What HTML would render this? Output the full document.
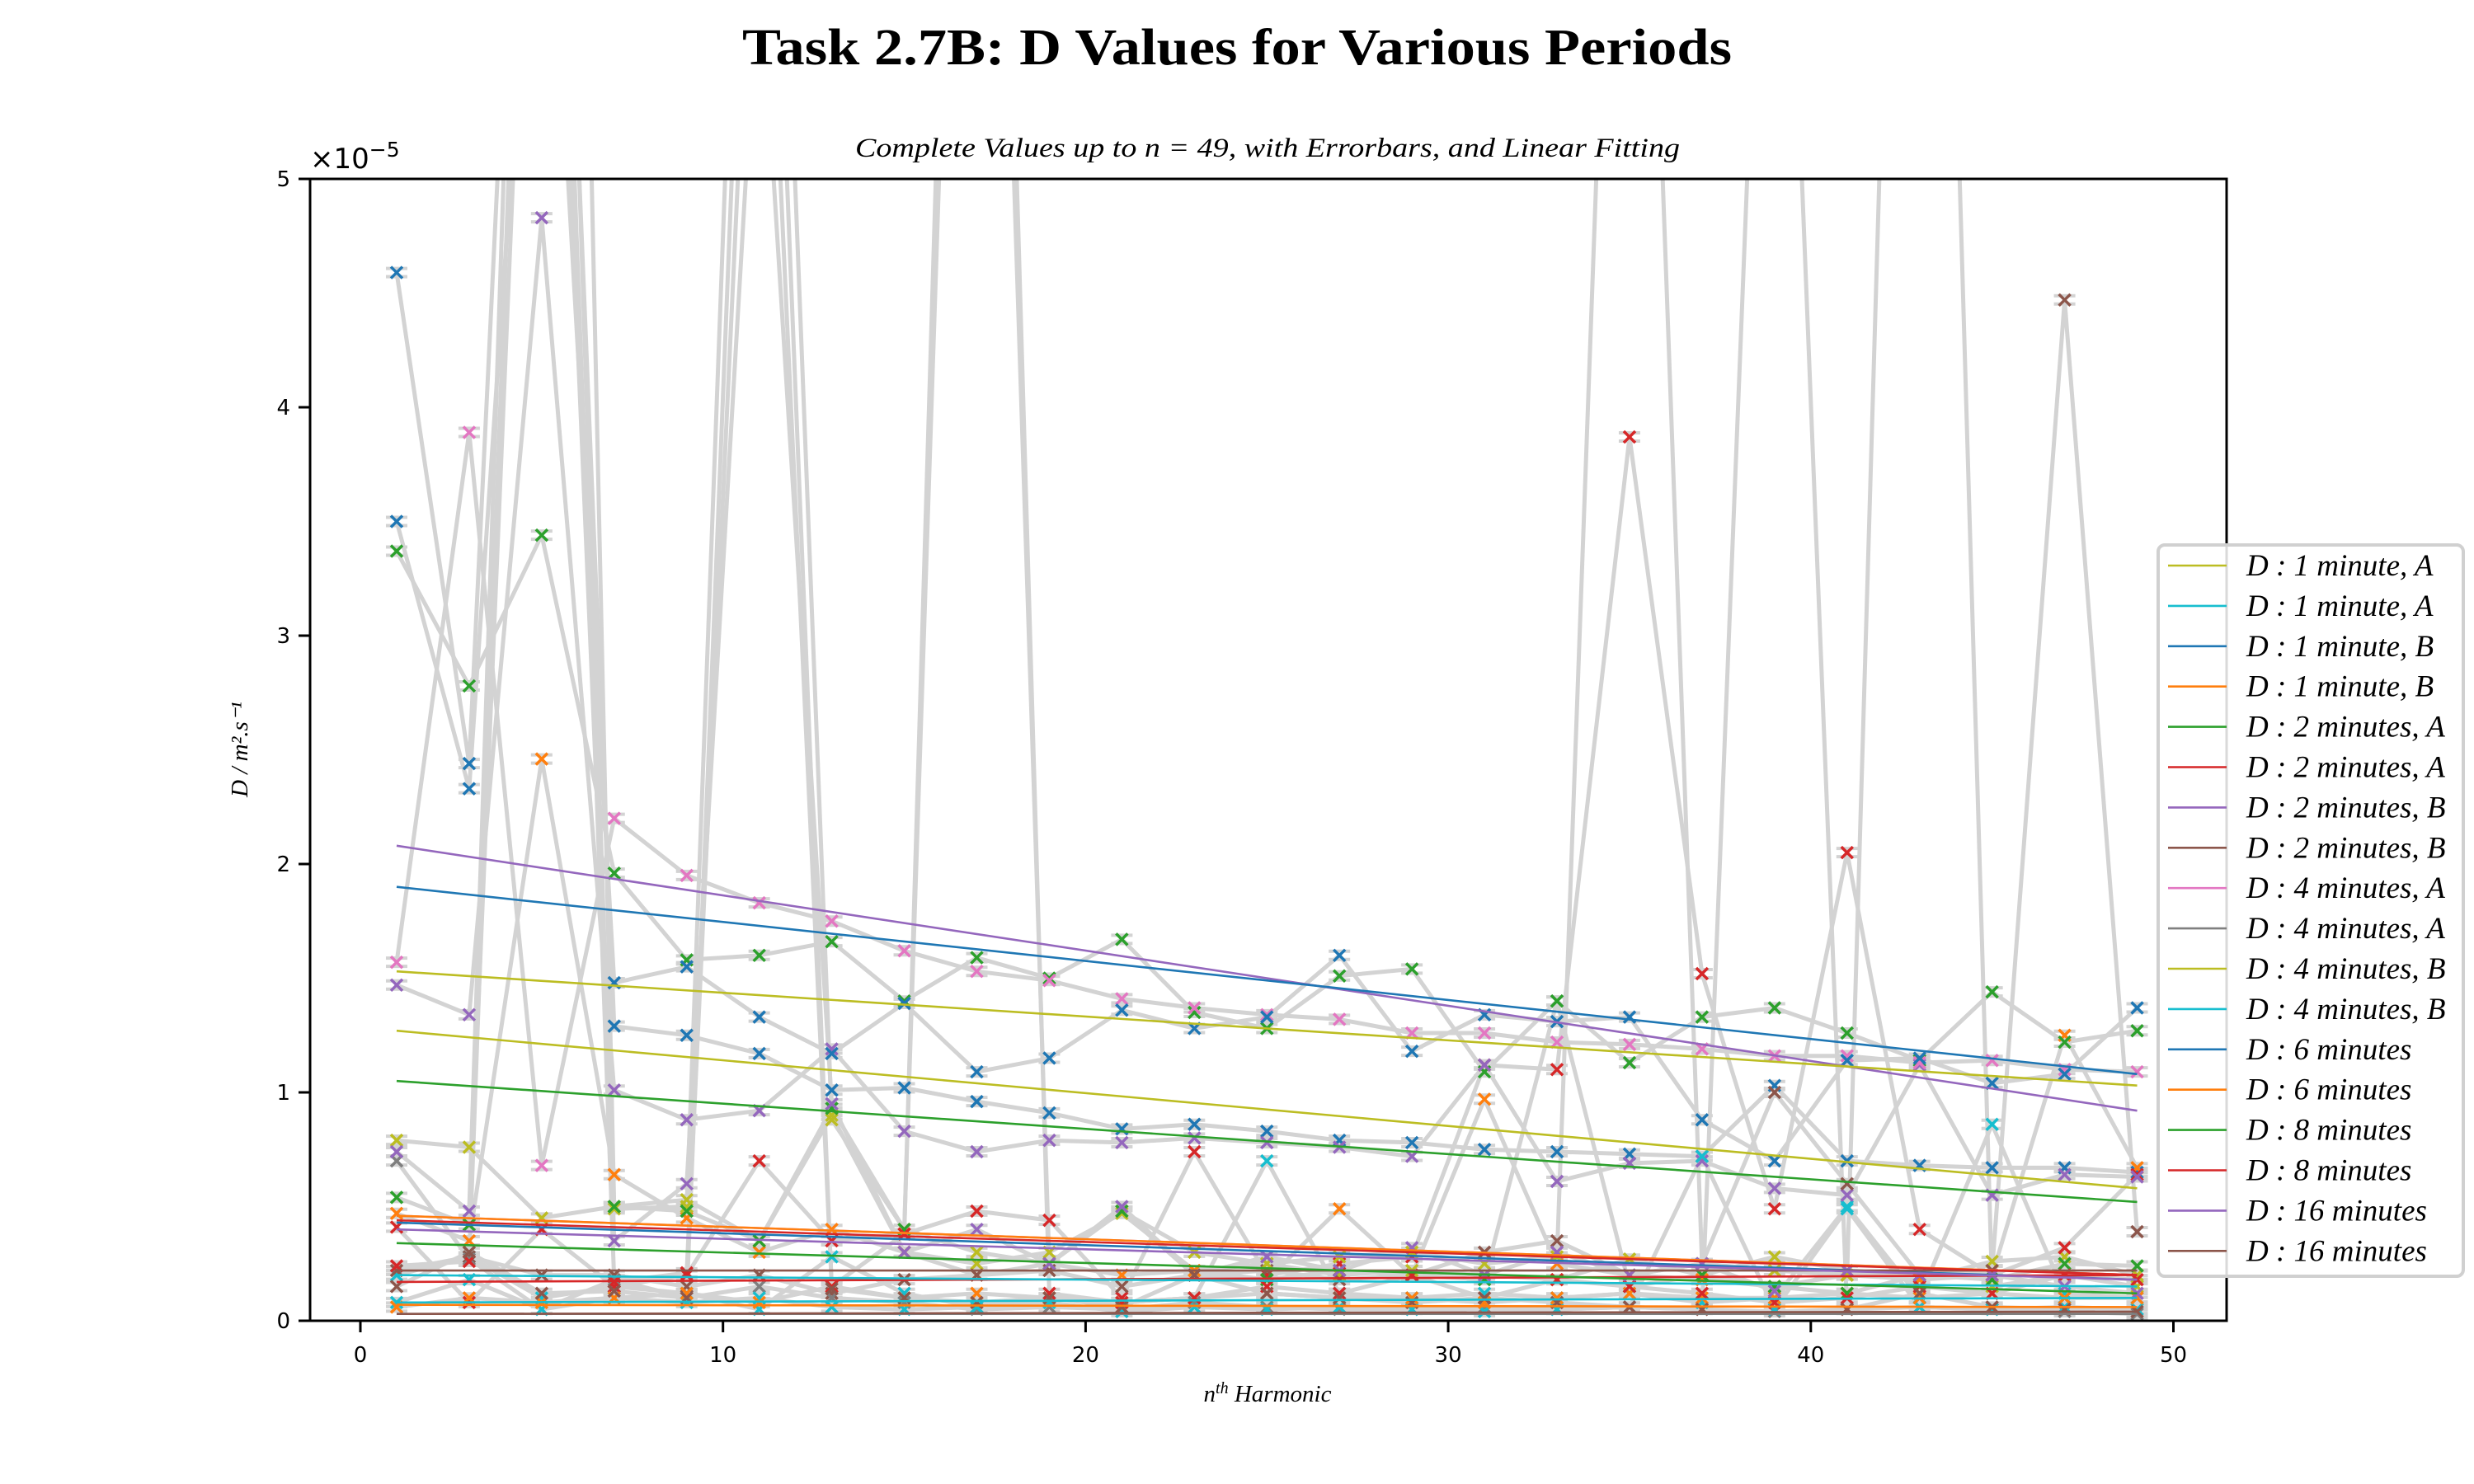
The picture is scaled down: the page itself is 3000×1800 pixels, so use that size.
<!DOCTYPE html>
<html><head><meta charset="utf-8"><style>
html,body{margin:0;padding:0;background:#fff;}
svg{display:block;}
</style></head><body>
<svg id="chart" xmlns="http://www.w3.org/2000/svg" width="3000" height="1800" viewBox="0 0 3000 1800">
<defs><clipPath id="plotclip"><rect x="376" y="217" width="2324" height="1385"/></clipPath></defs>
<rect width="3000" height="1800" fill="#fff"/>
<text x="1500" y="78" text-anchor="middle" font-family="Liberation Serif, serif" font-weight="bold" font-size="62" textLength="1200" lengthAdjust="spacingAndGlyphs">Task 2.7B: D Values for Various Periods</text>
<text x="1537" y="190" text-anchor="middle" font-family="Liberation Serif, serif" font-style="italic" font-size="33" textLength="1000" lengthAdjust="spacingAndGlyphs">Complete Values up to n = 49, with Errorbars, and Linear Fitting</text>
<text x="376" y="204" font-family="DejaVu Sans, sans-serif" font-size="34">×10<tspan dy="-14" font-size="25">−5</tspan></text>
<text transform="translate(300,909) rotate(-90)" text-anchor="middle" font-family="Liberation Serif, serif" font-style="italic" font-size="29">D / m².s⁻¹</text>
<text x="1537" y="1700" text-anchor="middle" font-family="Liberation Serif, serif" font-style="italic" font-size="29">n<tspan dy="-10" font-size="20">th</tspan><tspan dy="10"> Harmonic</tspan></text>
<g id="grey" clip-path="url(#plotclip)"></g>
<g id="marks" clip-path="url(#plotclip)"></g>
<g id="fits" clip-path="url(#plotclip)"></g>
<g id="axes"></g>
<g id="legend"></g>
</svg>
<script>
const harmonics = [1,3,5,7,9,11,13,15,17,19,21,23,25,27,29,31,33,35,37,39,41,43,45,47,49];
const seriesNames = ["D : 1 minute, A","D : 1 minute, A","D : 1 minute, B","D : 1 minute, B","D : 2 minutes, A","D : 2 minutes, A","D : 2 minutes, B","D : 2 minutes, B","D : 4 minutes, A","D : 4 minutes, A","D : 4 minutes, B","D : 4 minutes, B","D : 6 minutes","D : 6 minutes","D : 8 minutes","D : 8 minutes","D : 16 minutes","D : 16 minutes"];
const seriesColors = ["#bcbd22","#17becf","#1f77b4","#ff7f0e","#2ca02c","#d62728","#9467bd","#8c564b","#e377c2","#7f7f7f","#bcbd22","#17becf","#1f77b4","#ff7f0e","#2ca02c","#d62728","#9467bd","#8c564b"];
const s0 = [0.79,0.76,0.45,0.50,0.53,0.35,0.90,0.30,0.25,0.30,0.47,0.22,0.25,0.20,0.22,0.20,0.18,0.27,0.20,0.28,0.22,0.18,0.26,0.28,0.20];
const s1 = [0.20,0.28,0.10,0.15,0.12,0.05,0.28,0.12,0.06,0.10,0.08,0.10,0.70,0.12,0.10,0.12,0.10,0.12,0.08,0.10,0.50,0.10,0.86,0.12,0.10];
const s2 = [4.59,2.44,9,1.29,1.25,1.17,1.01,1.02,0.96,0.91,0.84,0.86,0.83,0.79,0.78,0.75,0.74,0.73,0.72,1.03,0.70,0.68,0.67,0.67,0.65];
const s3 = [0.47,0.35,2.46,0.64,0.45,0.30,0.40,0.30,0.20,0.25,0.20,0.22,0.18,0.49,0.20,0.97,0.25,0.20,0.18,0.15,0.20,0.18,0.20,1.25,0.67];
const s4 = [3.37,2.78,3.44,1.96,1.58,1.60,1.66,1.40,1.59,1.50,1.67,1.35,1.28,1.51,1.54,1.09,1.40,1.13,1.33,1.37,1.26,1.14,1.44,1.22,1.27];
const s5 = [0.41,0.08,0.40,0.15,0.20,0.70,0.35,0.38,0.48,0.44,0.10,0.74,0.20,0.25,0.28,1.12,1.10,3.87,1.52,0.49,2.05,0.40,0.20,0.32,0.64];
const s6 = [1.47,1.34,4.83,1.01,0.88,0.92,1.19,0.83,0.74,0.79,0.78,0.80,0.78,0.76,0.72,1.12,0.61,0.69,0.70,0.58,0.55,1.12,0.55,0.64,0.63];
const s7 = [0.22,0.28,0.20,0.20,0.15,0.20,0.12,0.18,0.20,0.22,0.15,0.20,0.22,0.18,0.20,0.30,0.35,0.20,0.25,1.00,0.60,0.20,0.22,4.47,0.39];
const s8 = [1.57,3.89,0.68,2.20,1.95,1.83,1.75,1.62,1.53,1.49,1.41,1.37,1.34,1.32,1.26,1.26,1.22,1.21,1.19,1.16,1.16,1.13,1.14,1.10,1.09];
const s9 = [0.70,0.27,0.05,0.18,0.10,0.15,0.10,0.08,0.05,0.06,0.05,0.08,0.06,0.05,0.05,0.06,0.05,0.06,0.05,0.04,0.05,0.06,0.05,0.04,0.03];
const s10 = [12,8,15,0.49,0.50,9,0.88,0.40,0.30,0.25,0.48,0.30,0.25,0.28,0.30,0.25,0.28,9,0.25,0.22,0.20,11,0.15,0.20,0.15];
const s11 = [0.08,0.18,0.05,0.10,0.08,0.10,0.06,0.05,0.06,0.08,0.04,0.06,0.05,0.06,0.05,0.04,0.05,0.06,0.72,0.05,0.49,0.06,0.05,0.06,0.05];
const s12 = [3.50,2.33,7,1.48,1.55,1.33,1.17,1.39,1.09,1.15,1.36,1.28,1.33,1.60,1.18,1.34,1.31,1.33,0.88,0.70,1.14,1.15,1.04,1.08,1.37];
const s13 = [0.06,0.10,0.08,0.10,0.12,0.08,0.15,0.10,0.12,0.10,0.08,0.10,0.12,0.10,0.10,0.08,0.10,0.12,0.10,0.10,0.12,0.10,0.12,0.10,0.10];
const s14 = [0.54,0.42,8,0.50,0.48,0.35,0.93,0.40,10,0.25,0.48,0.20,0.18,0.22,0.20,0.18,1.40,0.15,0.20,0.15,0.12,0.20,0.18,0.25,0.24];
const s15 = [0.24,0.26,9,0.17,0.21,7,0.15,0.38,11,0.12,0.08,0.10,0.15,0.12,0.20,0.10,0.18,0.15,0.12,0.08,0.10,0.15,0.12,0.20,0.18];
const s16 = [0.74,0.48,10,0.35,0.60,6,0.95,0.30,0.40,0.25,0.50,0.20,0.28,0.22,0.32,0.20,0.30,0.20,0.25,0.13,0.22,0.20,0.20,0.15,0.12];
const s17 = [0.15,0.30,0.12,0.13,0.10,8,0.14,0.10,0.08,0.10,0.06,0.20,0.12,0.10,0.08,0.10,0.08,0.06,0.05,8,0.05,0.12,0.06,0.05,0.04];
const allSeries = [s0,s1,s2,s3,s4,s5,s6,s7,s8,s9,s10,s11,s12,s13,s14,s15,s16,s17];
const fitAtFirst = [1.27,0.08,0.43,0.07,1.05,0.17,2.08,0.22,0.46,0.03,1.53,0.20,1.90,0.46,0.34,0.44,0.40,0.03];
const fitAtLast  = [0.58,0.10,0.18,0.06,0.52,0.20,0.92,0.22,0.20,0.03,1.03,0.15,1.08,0.20,0.12,0.20,0.18,0.04];
const xTicks = [0,10,20,30,40,50];
const yTicks = [0,1,2,3,4,5];

const NS = "http://www.w3.org/2000/svg";
const X0 = 437, XU = 43.97, Y0 = 1602, YU = 277;
const sx = v => X0 + v * XU;
const sy = v => Y0 - v * YU;
function mk(tag, attrs, parent){ const e=document.createElementNS(NS,tag); for(const k in attrs) e.setAttribute(k,attrs[k]); parent.appendChild(e); return e; }
const grey = document.getElementById('grey'), marks = document.getElementById('marks'), fits = document.getElementById('fits'), axes = document.getElementById('axes'), legend = document.getElementById('legend');

allSeries.forEach((vals, si) => {
  const pts = vals.map((v,i)=> sx(harmonics[i]).toFixed(1)+","+sy(v).toFixed(1)).join(" ");
  const pl = mk('polyline',{points:pts,fill:'none',stroke:'#d3d3d3','stroke-width':5,'stroke-linejoin':'round'},grey);
  
  
  vals.forEach((v,i)=>{
    const x = sx(harmonics[i]), y = sy(v);
    const cap = mk('path',{d:`M${x-13},${y-5}H${x+13}M${x-13},${y+5}H${x+13}`,stroke:'#d3d3d3','stroke-width':4},grey);
    
    
    const m = mk('path',{d:`M${x-7},${y-7}L${x+7},${y+7}M${x-7},${y+7}L${x+7},${y-7}`,stroke:seriesColors[si],'stroke-width':3.5},marks);
    
    
  });
  const f = mk('line',{x1:sx(harmonics[0]),y1:sy(fitAtFirst[si]),x2:sx(harmonics[harmonics.length-1]),y2:sy(fitAtLast[si]),stroke:seriesColors[si],'stroke-width':2.6},fits);
  
  
});

const frame = mk('rect',{x:376,y:217,width:2324,height:1385,fill:'none',stroke:'#000','stroke-width':3},axes);


xTicks.forEach(t=>{
  const x = sx(t);
  const tk = mk('line',{x1:x,y1:1602,x2:x,y2:1616,stroke:'#000','stroke-width':3},axes);
  
  
  const lb = mk('text',{x:x,y:1652,'text-anchor':'middle','font-family':'DejaVu Sans, sans-serif','font-size':26},axes);
  lb.textContent = t;
  
  
});
yTicks.forEach(t=>{
  const y = sy(t);
  const tk = mk('line',{x1:362,y1:y,x2:376,y2:y,stroke:'#000','stroke-width':3},axes);
  
  
  const lb = mk('text',{x:352,y:y+9,'text-anchor':'end','font-family':'DejaVu Sans, sans-serif','font-size':26},axes);
  lb.textContent = t;
  
  
});

const box = mk('rect',{x:2617,y:661,width:370,height:887,rx:8,fill:'#fff','fill-opacity':0.85,stroke:'#d0d0d0','stroke-width':4},legend);


seriesNames.forEach((n,i)=>{
  const y = 686 + i*48.9;
  const ln = mk('line',{x1:2629,y1:y,x2:2700,y2:y,stroke:seriesColors[i],'stroke-width':2.6},legend);
  
  
  const tx = mk('text',{x:2724,y:y+12,'font-family':'Liberation Serif, serif','font-style':'italic','font-size':37},legend);
  tx.textContent = n;
  
  
});
</script>
</body></html>
